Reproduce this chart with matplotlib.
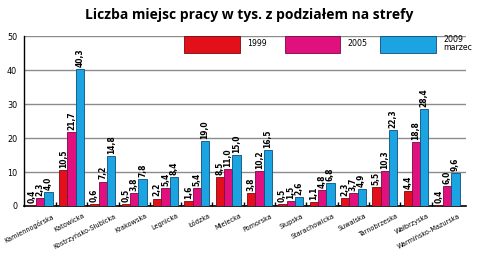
import numpy as np
import matplotlib
matplotlib.use("Agg")
import matplotlib.pyplot as plt
from matplotlib import font_manager
from matplotlib.patches import Rectangle

strefy = ["Kamiennogórska", "Katowicka", "Kostrzyńsko-Słubicka", "Krakowska",
          "Legnicka", "Łódzka", "Mielecka", "Pomorska", "Słupska",
          "Starachowicka", "Suwalska", "Tarnobrzeska", "Wałbrzyska",
          "Warmińsko-Mazurska"]
v1999 = [0.4, 10.5, 0.6, 0.5, 2.2, 1.6, 8.5, 3.8, 0.5, 1.1, 2.3, 5.5, 4.4, 0.4]
v2005 = [2.3, 21.7, 7.2, 3.8, 5.4, 5.4, 11.0, 10.2, 1.5, 4.8, 3.7, 10.3, 18.8, 6.0]
v2009 = [4.0, 40.3, 14.8, 7.8, 8.4, 19.0, 15.0, 16.5, 2.6, 6.8, 4.9, 22.3, 28.4, 9.6]
serie = ["1999", "2005", "2009\nmarzec"]

kolory = ["#e3101c", "#e0107f", "#1ba3e2"]
krawedz = ["#7a0a0a", "#7a0840", "#0b4f7a"]

# narrow font if we have one
names = {f.name for f in font_manager.fontManager.ttflist}
if 'Liberation Sans Narrow' in names:
    plt.rcParams['font.family'] = ['Liberation Sans Narrow', 'DejaVu Sans']
else:
    plt.rcParams['font.family'] = ['DejaVu Sans']
    plt.rcParams['font.stretch'] = 'condensed'

fig = plt.figure(figsize=(4.8, 2.54), dpi=100)
ax = fig.add_axes([0.05, 0.189, 0.921, 0.669])

x = np.arange(len(strefy))
w = 0.265
for k, vals in enumerate([v1999, v2005, v2009]):
    pos = x + (k - 1) * w
    ax.bar(pos, vals, w, color=kolory[k], edgecolor=krawedz[k], linewidth=0.6, zorder=3)
    for p, v in zip(pos, vals):
        ax.text(p, v + 0.6, ("%.1f" % v).replace(".", ","), rotation=90,
                ha="center", va="bottom", fontsize=6, fontweight="bold", zorder=4)

ax.set_xlim(-0.52, 13.6)
ax.set_ylim(0, 50)
ax.set_yticks([0, 10, 20, 30, 40, 50])
ax.yaxis.grid(True, color="#8c8c8c", linewidth=1.0, zorder=0)
ax.set_axisbelow(True)
for s in ["top", "right"]:
    ax.spines[s].set_visible(False)
ax.spines["left"].set_linewidth(1.0)
ax.spines["bottom"].set_linewidth(1.2)
ax.tick_params(axis="y", length=0, labelsize=6.5, pad=5)

# category labels, right end a bit right of the group centre
ax.set_xticks(x)
ax.set_xticklabels([])
ax.tick_params(axis="x", length=0)
for xi, name in zip(x, strefy):
    ax.text(xi + 0.36, -2.0, name, rotation=27, ha="right", va="top",
            rotation_mode="anchor", fontsize=5.2)
ax.set_xticks(x[:-1] + 0.5, minor=True)
ax.tick_params(axis="x", which="minor", direction="in", length=3, width=1.0)

# legend along the top
lx = [0.363, 0.59, 0.806]
for k in range(3):
    ax.add_patch(Rectangle((lx[k], 0.9), 0.125, 0.1, transform=ax.transAxes,
                           facecolor=kolory[k], edgecolor=krawedz[k], linewidth=0.6,
                           clip_on=False, zorder=5))
    ax.text(lx[k] + 0.142, 0.955, serie[k], transform=ax.transAxes, fontsize=6.3,
            ha="left", va="center", linespacing=0.8, zorder=5)

fig.text(0.52, 0.94, "Liczba miejsc pracy w tys. z podziałem na strefy",
         ha="center", va="center", fontsize=10, fontweight="bold",
         family=["Open Sans", "DejaVu Sans"], stretch="normal")

fig.savefig("out.png", dpi=100)
